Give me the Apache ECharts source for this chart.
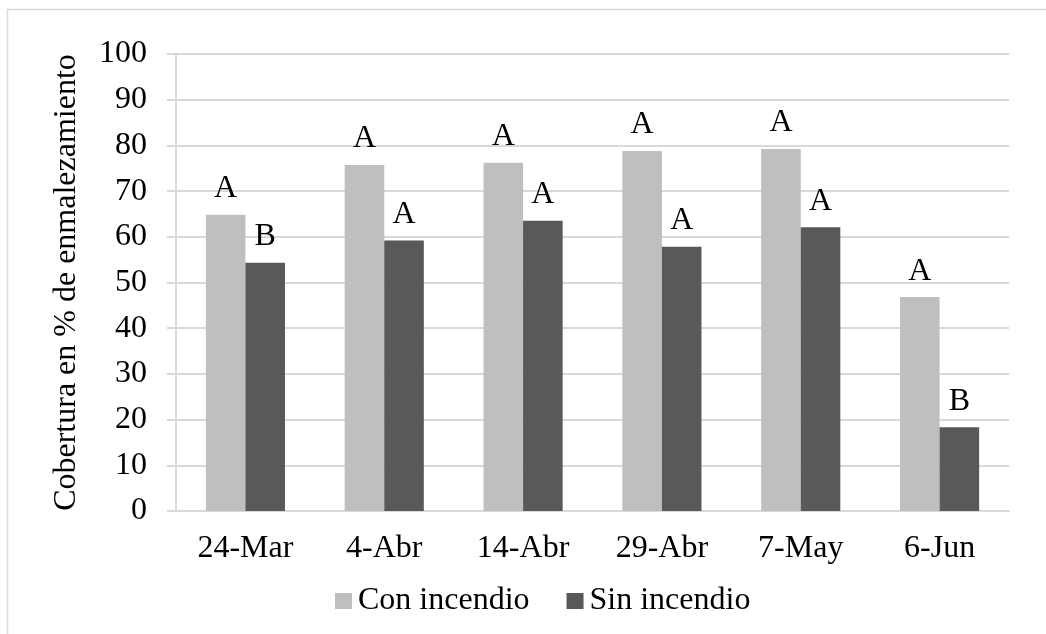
<!DOCTYPE html>
<html>
<head>
<meta charset="utf-8">
<script src="https://cdn.jsdelivr.net/npm/echarts@6/dist/echarts.min.js"></script>
<style>
html,body{margin:0;padding:0;background:#fff;}
#main{width:1046px;height:634px;}
</style>
</head>
<body>
<div id="main"></div>
<script>
var categories = ['24-Mar', '4-Abr', '14-Abr', '29-Abr', '7-May', '6-Jun'];
var conIncendio = [64.8, 75.7, 76.2, 78.8, 79.2, 46.8];
var sinIncendio = [54.3, 59.2, 63.5, 57.8, 62.1, 18.3];
var conLetters = ['A', 'A', 'A', 'A', 'A', 'A'];
var sinLetters = ['B', 'A', 'A', 'A', 'A', 'B'];
var seriesNames = ['Con incendio', 'Sin incendio'];
var yTitle = 'Cobertura en % de enmalezamiento';

var FONT = '"Liberation Serif", "Times New Roman", serif';
var FS = 32;
var chart = echarts.init(document.getElementById('main'), null, {renderer: 'canvas'});
chart.setOption({
  animation: false,
  backgroundColor: '#fff',
  graphic: [{
    type: 'rect',
    shape: {x: 7.5, y: 9.5, width: 1100, height: 700},
    style: {fill: 'none', stroke: '#d9d9d9', lineWidth: 1.5},
    silent: true
  }],
  grid: {left: 176, right: 37, top: 54, bottom: 123, containLabel: false},
  legend: {
    data: seriesNames,
    left: 330,
    top: 580,
    itemWidth: 17,
    itemHeight: 16,
    itemGap: 37,
    icon: 'rect',
    textStyle: {fontFamily: FONT, fontSize: FS, color: '#000', padding: [0,0,0,1]}
  },
  xAxis: {
    type: 'category',
    data: categories,
    axisLine: {lineStyle: {color: '#d9d9d9', width: 2}},
    axisTick: {show: false},
    axisLabel: {fontFamily: FONT, fontSize: FS, color: '#000', margin: 22}
  },
  yAxis: {
    type: 'value',
    min: 0, max: 100, interval: 10,
    name: yTitle,
    nameLocation: 'middle',
    nameGap: 93,
    nameTextStyle: {fontFamily: FONT, fontSize: FS, color: '#000'},
    axisLine: {show: true, lineStyle: {color: '#d9d9d9', width: 2}},
    axisTick: {show: true, length: 9, lineStyle: {color: '#d9d9d9', width: 2}},
    splitLine: {lineStyle: {color: '#d9d9d9', width: 2}},
    axisLabel: {fontFamily: FONT, fontSize: FS, color: '#000', margin: 29}
  },
  series: [{
    name: seriesNames[0],
    type: 'bar',
    data: conIncendio,
    barGap: '0%',
    barCategoryGap: '43%',
    itemStyle: {color: '#bfbfbf'},
    label: {show: true, position: 'top', distance: 10, fontFamily: FONT, fontSize: FS, color: '#000',
      formatter: function(p){ return conLetters[p.dataIndex]; }}
  }, {
    name: seriesNames[1],
    type: 'bar',
    data: sinIncendio,
    itemStyle: {color: '#595959'},
    label: {show: true, position: 'top', distance: 10, fontFamily: FONT, fontSize: FS, color: '#000',
      formatter: function(p){ return sinLetters[p.dataIndex]; }}
  }]
});
</script>
</body>
</html>
